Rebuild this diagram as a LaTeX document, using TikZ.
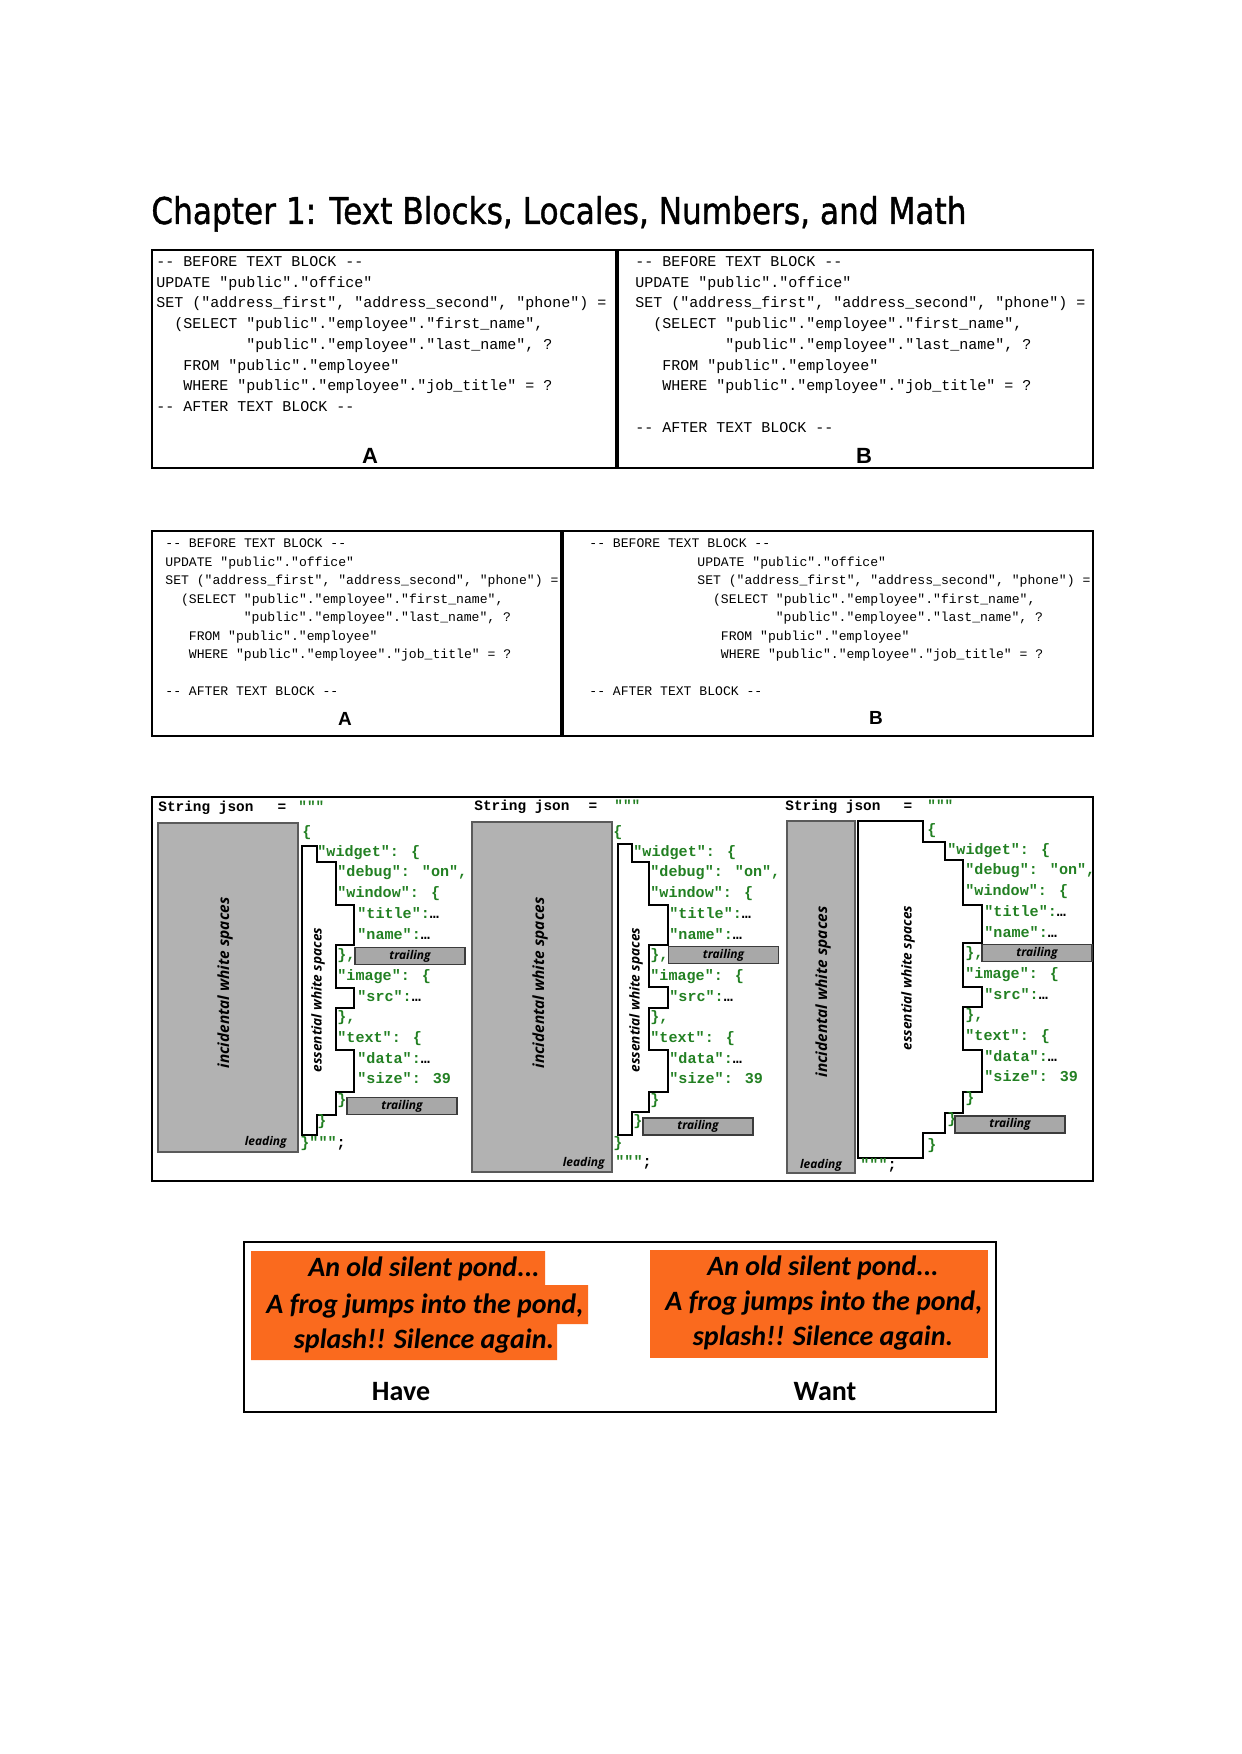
\documentclass[tikz,border=0pt]{standalone}
\usepackage{fontspec}
\setmainfont{Liberation Sans}
\newfontfamily\monof{Liberation Mono}
\newfontfamily\calib{Carlito}
\newfontfamily\opens{Open Sans}
\newfontfamily\titlef[FakeBold=1.2]{DejaVu Sans}
\usepackage{graphicx}
\definecolor{jgreen}{RGB}{34,128,34}
\definecolor{boxgray}{RGB}{178,178,178}
\definecolor{edgegray}{RGB}{90,90,90}
\definecolor{trailgray}{RGB}{168,168,168}
\definecolor{trailedge}{RGB}{60,60,60}
\definecolor{pondorange}{RGB}{250,106,30}
\tikzset{
  sqlone/.style={font=\monof\fontsize{7.5pt}{9pt}\selectfont, anchor=base west, inner sep=0pt},
  sqltwo/.style={font=\monof\fontsize{6.55pt}{8pt}\selectfont, anchor=base west, inner sep=0pt},
  json/.style={font=\monof\bfseries\fontsize{7.55pt}{9pt}\selectfont, text=jgreen, anchor=base west, inner sep=0pt},
  hdr/.style={font=\monof\bfseries\fontsize{7.2pt}{9pt}\selectfont, anchor=base west, inner sep=0pt},
  panel/.style={draw=black, line width=1pt},
  divider/.style={line width=2.2pt},
  graybox/.style={fill=boxgray, draw=edgegray, line width=0.8pt},
  essline/.style={draw=black, line width=0.75pt},
  trailbox/.style={fill=trailgray, draw=trailedge, line width=0.9pt, minimum width=55pt, minimum height=8.5pt, inner sep=0pt, font=\opens\bfseries\itshape\fontsize{6pt}{7pt}\selectfont},
  rotlab/.style={font=\opens\bfseries\itshape\fontsize{7.7pt}{9pt}\selectfont, rotate=90, inner sep=0pt},
  rotsmall/.style={font=\opens\bfseries\itshape\fontsize{6.8pt}{8pt}\selectfont, rotate=90, inner sep=0pt},
  tag/.style={font=\opens\bfseries\itshape\fontsize{6pt}{7pt}\selectfont, inner sep=0pt},
  haiku/.style={font=\calib\bfseries\itshape\fontsize{14pt}{16pt}\selectfont, anchor=base, inner sep=0pt},
  hw/.style={font=\calib\bfseries\fontsize{14pt}{16pt}\selectfont, anchor=base, inner sep=0pt},
  labone/.style={font=\bfseries\fontsize{11pt}{13pt}\selectfont, anchor=base, inner sep=0pt},
  labtwo/.style={font=\bfseries\fontsize{9.5pt}{11pt}\selectfont, anchor=base, inner sep=0pt}
}
\newcommand{\jsonbody}[5]{%
  \foreach \i/\lv/\t in {0/1/{"widget": \{}, 1/2/{"debug": "on",}, 2/2/{"window": \{},
     3/3/{"title":\textcolor{black}{…}}, 4/3/{"name":\textcolor{black}{…}}, 5/2/{\},},
     6/2/{"image": \{}, 7/3/{"src":\textcolor{black}{…}}, 8/2/{\},}, 9/2/{"text": \{},
     10/3/{"data":\textcolor{black}{…}}, 11/3/{"size": 39}, 12/2/{\}}, 13/1/{\}}} {
    \pgfmathsetmacro\xx{\lv==1 ? #2 : (\lv==2 ? #3 : #4)}
    \node[json] (#1j\i) at (\xx, {#5+20.7*\i}) {\t};
  }%
}
\begin{document}
\begin{tikzpicture}[x=0.5pt,y=-0.5pt]
\fill[white] (0,0) rectangle (1241,1754);
\path[use as bounding box] (0,0) rectangle (1241,1754);

% title
\node[anchor=base west, inner sep=0pt] (title) at (151,224)
  {\resizebox{407.5pt}{14pt}{\titlef Chapter 1: Text Blocks, Locales, Numbers, and Math}};

% ---------------- panel 1
\draw[panel] (152,250) rectangle (1093,468);
\draw[divider] (617,250) -- (617,468);
\node[sqlone] (a1l0) at (156,266.4) {-{}- BEFORE TEXT BLOCK -{}-};
\node[sqlone] (a1l1) at (156,287.2) {UPDATE "public"."office"};
\node[sqlone] (a1l2) at (156,307.9) {SET ("address\_first", "address\_second", "phone") =};
\node[sqlone] (a1l3) at (174,328.7) {(SELECT "public"."employee"."first\_name",};
\node[sqlone] (a1l4) at (246,349.4) {"public"."employee"."last\_name", ?};
\node[sqlone] (a1l5) at (183,370.2) {FROM "public"."employee"};
\node[sqlone] (a1l6) at (183,390.9) {WHERE "public"."employee"."job\_title" = ?};
\node[sqlone] (a1l7) at (156,411.7) {-{}- AFTER TEXT BLOCK -{}-};
\node[labone] (a1lab) at (370,464) {A};

\node[sqlone] (b1l0) at (635,266.4) {-{}- BEFORE TEXT BLOCK -{}-};
\node[sqlone] (b1l1) at (635,287.2) {UPDATE "public"."office"};
\node[sqlone] (b1l2) at (635,307.9) {SET ("address\_first", "address\_second", "phone") =};
\node[sqlone] (b1l3) at (653,328.7) {(SELECT "public"."employee"."first\_name",};
\node[sqlone] (b1l4) at (725,349.4) {"public"."employee"."last\_name", ?};
\node[sqlone] (b1l5) at (662,370.2) {FROM "public"."employee"};
\node[sqlone] (b1l6) at (662,390.9) {WHERE "public"."employee"."job\_title" = ?};
\node[sqlone] (b1l7) at (635,432.4) {-{}- AFTER TEXT BLOCK -{}-};
\node[labone] (b1lab) at (864,464) {B};

% ---------------- panel 2
\draw[panel] (152,531) rectangle (1093,736);
\draw[divider] (562,531) -- (562,736);
\node[sqltwo] (a2l0) at (165,547.8) {-{}- BEFORE TEXT BLOCK -{}-};
\node[sqltwo] (a2l1) at (165,566.3) {UPDATE "public"."office"};
\node[sqltwo] (a2l2) at (165,584.8) {SET ("address\_first", "address\_second", "phone") =};
\node[sqltwo] (a2l3) at (180.7,603.3) {(SELECT "public"."employee"."first\_name",};
\node[sqltwo] (a2l4) at (243.4,621.8) {"public"."employee"."last\_name", ?};
\node[sqltwo] (a2l5) at (188.5,640.3) {FROM "public"."employee"};
\node[sqltwo] (a2l6) at (188.5,658.8) {WHERE "public"."employee"."job\_title" = ?};
\node[sqltwo] (a2l7) at (165,695.8) {-{}- AFTER TEXT BLOCK -{}-};
\node[labtwo] (a2lab) at (345,725.5) {A};

\node[sqltwo] (b2l0) at (589,547.8) {-{}- BEFORE TEXT BLOCK -{}-};
\node[sqltwo] (b2l1) at (697,566.3) {UPDATE "public"."office"};
\node[sqltwo] (b2l2) at (697,584.8) {SET ("address\_first", "address\_second", "phone") =};
\node[sqltwo] (b2l3) at (712.7,603.3) {(SELECT "public"."employee"."first\_name",};
\node[sqltwo] (b2l4) at (775.4,621.8) {"public"."employee"."last\_name", ?};
\node[sqltwo] (b2l5) at (720.5,640.3) {FROM "public"."employee"};
\node[sqltwo] (b2l6) at (720.5,658.8) {WHERE "public"."employee"."job\_title" = ?};
\node[sqltwo] (b2l7) at (589,695.8) {-{}- AFTER TEXT BLOCK -{}-};
\node[labtwo] (b2lab) at (876,724.5) {B};

% ---------------- panel 3
\draw[panel] (152,797) rectangle (1093,1181);

% part 1
\node[hdr] (h1s) at (158,811) {String json};
\node[hdr, anchor=base] (h1e) at (282,811) {=};
\node[hdr, text=jgreen] (h1q) at (298,811) {"{}"{}"};
\draw[graybox] (158,823) rectangle (298,1152);
\node[rotlab] (inc1) at (225,983) {incidental white spaces};
\node[tag, anchor=base east] (lead1) at (287,1145) {leading};
\draw[essline] (302,846) -- (317,846) -- (317,862) -- (336,862) -- (336,905) -- (354,905)
  -- (354,945) -- (336,945) -- (336,988) -- (354,988) -- (354,1008) -- (336,1008)
  -- (336,1050) -- (354,1050) -- (354,1092) -- (336,1092) -- (336,1115) -- (317,1115)
  -- (317,1135) -- (302,1135) -- cycle;
\node[rotsmall] (ess1) at (318,1000) {essential white spaces};
\node[json] (p1open) at (302,836) {\{};
\jsonbody{p1}{317}{337}{357}{856.2}
\node[json] (p1close) at (300,1147) {\}"{}"{}"\textcolor{black}{;}};
\node[trailbox] (t1a) at (410,956) {trailing};
\node[trailbox] (t1b) at (402,1106) {trailing};

% part 2
\node[hdr] (h2s) at (474,810) {String json};
\node[hdr, anchor=base] (h2e) at (593,810) {=};
\node[hdr, text=jgreen] (h2q) at (614,810) {"{}"{}"};
\draw[graybox] (472,822) rectangle (612,1172);
\node[rotlab] (inc2) at (540,983) {incidental white spaces};
\node[tag, anchor=base east] (lead2) at (605,1166) {leading};
\draw[essline] (618,844) -- (632,844) -- (632,862) -- (649,862) -- (649,905) -- (668,905)
  -- (668,945) -- (649,945) -- (649,987) -- (668,987) -- (668,1008) -- (649,1008)
  -- (649,1050) -- (668,1050) -- (668,1092) -- (649,1092) -- (649,1112) -- (632,1112)
  -- (632,1135) -- (618,1135) -- cycle;
\node[rotsmall] (ess2) at (636,1000) {essential white spaces};
\node[json] (p2open) at (613,836) {\{};
\jsonbody{p2}{633}{650}{669}{856.2}
\node[json] (p2close) at (613,1147) {\}};
\node[json] (p2end) at (615,1166) {"{}"{}"\textcolor{black}{;}};
\node[trailbox] (t2a) at (723.5,955) {trailing};
\node[trailbox] (t2b) at (698,1126.5) {trailing};

% part 3
\node[hdr] (h3s) at (785,810) {String json};
\node[hdr, anchor=base] (h3e) at (908,810) {=};
\node[hdr, text=jgreen] (h3q) at (927,810) {"{}"{}"};
\draw[graybox] (787,821) rectangle (855,1173);
\node[rotlab] (inc3) at (823,992) {incidental white spaces};
\node[tag, anchor=base] (lead3) at (821,1168) {leading};
\draw[essline, fill=white] (858,821) -- (923,821) -- (923,842) -- (945,842) -- (945,860)
  -- (963,860) -- (963,905) -- (982,905) -- (982,943) -- (963,943) -- (963,987)
  -- (982,987) -- (982,1007) -- (963,1007) -- (963,1050) -- (982,1050) -- (982,1092)
  -- (963,1092) -- (963,1113) -- (945,1113) -- (945,1133) -- (923,1133) -- (923,1158)
  -- (858,1158) -- cycle;
\node[rotsmall] (ess3) at (908,978) {essential white spaces};
\node[json] (p3open) at (927,834) {\{};
\jsonbody{p3}{947}{965}{984}{854.2}
\node[json] (p3close) at (927,1149) {\}};
\node[json] (p3end) at (860,1169) {"{}"{}"\textcolor{black}{;}};
\node[trailbox] (t3a) at (1037,953) {trailing};
\node[trailbox] (t3b) at (1010,1124.5) {trailing};

% ---------------- panel 4
\draw[panel] (244,1242) rectangle (996,1412);
\fill[pondorange] (251,1251) -- (545,1251) -- (545,1285) -- (588,1285) -- (588,1324)
  -- (557,1324) -- (557,1360) -- (251,1360) -- cycle;
\fill[pondorange] (650,1250) rectangle (988,1358);
\node[haiku] (hl1) at (424,1276) {An old silent pond...};
\node[haiku] (hl2) at (425,1313) {A frog jumps into the pond,};
\node[haiku] (hl3) at (424,1348) {splash!! Silence again.};
\node[haiku] (hr1) at (823,1275) {An old silent pond...};
\node[haiku] (hr2) at (824,1310) {A frog jumps into the pond,};
\node[haiku] (hr3) at (823,1345) {splash!! Silence again.};
\node[hw] (have) at (401,1400) {Have};
\node[hw] (want) at (825,1400) {Want};
\end{tikzpicture}
\end{document}
